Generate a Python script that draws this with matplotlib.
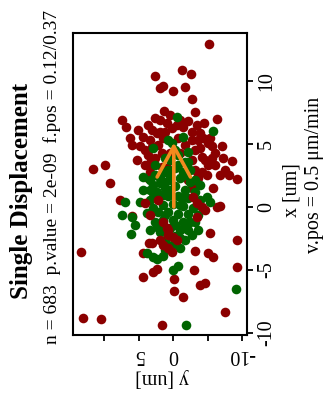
import matplotlib
matplotlib.use('Agg')
import matplotlib.pyplot as plt

plt.rcParams['font.family'] = ['Liberation Serif', 'DejaVu Serif']

# ---- data (x_um is the displacement along x, y_um along y) ----
red_back_x = [12.94, 10.83, 10.56, 10.40, 9.60, 9.44, 9.21, 9.50, 8.53, 7.58,
              7.02, 6.90, 6.37, 7.01, 6.67, 6.85, 6.64, 6.51, 6.37, 6.11,
              5.98, 5.85, 5.58, 5.98, 5.85, 4.88, 5.45, 5.32, 5.45, 4.80,
              4.84, 4.66, 4.52, 4.79, 3.73, 4.13, 3.47, 4.26, 3.99, 3.87,
              3.33, 3.87, 3.67, 2.94, 2.50, 2.18, 2.99, 3.33, 1.88, 2.80,
              2.28, 3.07, 2.94, 2.80, 2.28, 2.54, 2.14, 2.28, 1.48, 1.48,
              0.56, 0.02, 0.08, -2.06, -3.67, -3.49, -3.67, -4.01, -3.55, -2.83,
              -2.62, -4.74, -5.52, -5.13, -4.94, -5.00, -5.74, -6.67, -7.18, -6.19,
              -6.01, -8.31, -8.81, -8.93, -9.40, -0.71, 5.32, 5.45, 6.25, 6.51,
              5.08, 4.29, 4.29, 4.29, 3.20,
              7.30, 7.54, 6.51, 6.11, 5.95, 4.92, 4.52, 5.48, 4.84, 4.92,
              3.89, 3.73, 3.33, 6.90, 6.90, 5.48, 3.73, 5.32, 3.33, 2.54]
red_back_y = [-5.22, -1.30, -2.54, 2.68, 1.45, 1.88, 0.00, -1.67, -2.68, 1.38,
              2.61, 7.43, 6.81, -6.33, -4.49, -2.22, 0.91, -0.54, -1.49, 3.09,
              1.88, 2.36, 4.35, -2.71, -3.91, 5.99, -0.77, -2.71, -4.39, -5.61,
              -7.06, -3.91, 4.06, 3.09, 5.26, 3.58, 3.33, 1.64, -4.16, -5.61,
              -5.12, -7.29, -8.59, -7.54, -8.04, -9.28, 11.55, 9.93, 9.09, 3.33,
              3.58, 0.91, -3.19, -4.16, -3.43, -4.88, -2.22, -3.67, -2.71, -5.84,
              7.68, -6.33, -6.81, -5.36, 4.30, -3.19, -5.12, -5.84, 13.38, 3.48,
              -9.23, -9.23, 4.35, 2.86, 2.36, -2.97, -0.14, -0.14, -1.45, -3.87,
              -4.57, -7.46, 13.04, 10.48, 1.67, 5.90, 3.33, 1.41, 0.19, -3.43,
              -5.07, -6.09, -1.01, 0.43, 1.64,
              0.43, -3.19, 3.62, 5.07, 1.16, -1.74, -3.19, -5.36, 4.78, 2.17,
              2.61, -2.75, -6.09, -1.01, 1.88, 6.23, -4.64, -3.62, 4.06, -6.81]

green_x = [7.12, 5.99, 5.32, 5.58, 4.66, 4.39, 3.33, 2.40, 3.60, 2.80,
           1.88, 2.01, 1.75, 1.21, 0.82, 0.82, 0.42, 0.42, 0.42, -0.63,
           -0.77, -0.50, -1.43, -1.56, -1.83, -1.83, -2.17, -3.67, -3.94, -3.87,
           -4.15, -2.48, -5.00, -4.72, -6.53, -9.34,
           2.30, 2.46, 2.30, 1.98, 1.51, 1.67, 1.35, 1.19, 0.87, 0.87,
           0.87, 0.71, 0.16, 0.24, 0.08, -0.08, -0.40, -0.40, -0.56, -0.56,
           -1.03, -1.03, -1.19, -1.67, -1.83, -1.98, -2.30, -2.62, -2.62, -3.02,
           3.73, 3.33, 2.94, 3.57, 4.52, 5.08, 2.94, 1.75, -0.63, -1.19,
           1.35, 0.56, -1.19, -1.83, -3.25, -3.41, 1.35, 0.16, -0.63, -1.43,
           -1.19, 1.35, 3.89, 4.13,
           2.54, 2.78, 2.54, 2.14, 0.56, 0.95, 0.71, 0.16, -0.08, -1.67,
           -1.43, -2.22, 2.14, 3.10, 2.14]
green_y = [-0.62, -5.72, 0.68, -1.49, 2.86, -2.22, 2.61, 4.30, -2.22, -1.49,
           1.88, 1.16, -3.91, 2.36, 2.86, -4.88, -5.36, 6.96, 4.78, 7.43,
           5.99, 3.81, 5.51, 2.36, -2.22, -3.67, 6.09, 3.81, 2.86, 1.41,
           2.36, -0.97, -0.04, -0.77, -9.06, -1.91,
           1.88, 0.43, -1.01, -2.46, 1.16, -0.29, -1.74, -3.19, 2.17, 0.72,
           -0.72, -2.17, 1.45, 0.00, -1.45, -2.90, 2.17, 0.72, -0.72, -2.17,
           1.45, 0.00, -1.45, 0.43, -1.01, 1.88, -0.29, 1.16, -1.74, 0.14,
           0.43, -0.72, 0.72, -1.74, -0.29, 0.14, -2.46, 2.90, -3.62, 2.61,
           3.33, -3.91, -3.19, 3.33, -1.01, 1.16, 0.43, -1.01, 1.16, -0.29,
           -2.46, 4.35, 1.16, -0.72,
           2.61, 1.16, -1.74, -3.19, 3.33, 1.45, -1.45, -3.62, 2.90, -1.74,
           1.88, -2.75, 3.33, -0.29, 0.43]

red_front_x = [0.29, 0.56, 0.29, 0.02, -0.63, -1.17, -1.69, -0.77, -2.22,
               -2.62, -2.88, -2.62, -3.02, -3.28, -3.55, 0.82, -0.24, -2.36, -1.83]
red_front_y = [4.06, 2.13, -3.43, -4.16, 3.33, 1.41, 0.91, -3.43, 0.68,
               -0.54, 3.09, 1.88, 1.41, 0.68, 0.19, -2.90, -4.59, 0.00, 0.72]

arrow_x = [0.0, 5.1]
arrow_y = [-0.1, -0.1]

x_ticks = [-10, -5, 0, 5, 10]
x_tick_labels = ['-10', '-5', '0', '5', '10']
y_ticks = [10, 5, 0, -5, -10]
y_tick_labels = ['', '5', '0', '', '-10']

title = 'Single Displacement'
subtitle = 'n = 683  p.value = 2e-09  f.pos = 0.12/0.37'
x_label = 'x [um]'
y_label = 'y [um]'
v_label = 'v.pos = 0.5 \u03bcm/min'

RED = '#8B0000'
GREEN = '#006400'
ORANGE = '#F28A1E'

W, H = 327, 395
fig = plt.figure(figsize=(W / 100, H / 100), dpi=100)
ax = fig.add_axes([73 / W, 1 - 335 / H, 174 / W, 302 / H])

# The chart is drawn rotated: horizontal axis = y (reversed), vertical axis = x
ms = 48
ax.scatter(red_back_y, red_back_x, s=ms, c=RED, linewidths=0, zorder=2)
ax.scatter(green_y, green_x, s=ms, c=GREEN, linewidths=0, zorder=3)
ax.scatter(red_front_y, red_front_x, s=ms, c=RED, linewidths=0, zorder=4)

ax.annotate('', xy=(arrow_y[1], arrow_x[1]), xytext=(arrow_y[0], arrow_x[0]),
            arrowprops=dict(arrowstyle='->,head_length=2.2,head_width=1.2',
                            color=ORANGE, lw=2.6, mutation_scale=10,
                            shrinkA=0, shrinkB=0),
            zorder=5)

ax.set_xlim(14.5, -10.7)
ax.set_ylim(-10.16, 13.8)

ax.set_xticks(y_ticks)
ax.set_xticklabels(y_tick_labels, rotation=180, fontsize=14.4)
ax.yaxis.tick_right()
ax.set_yticks(x_ticks)
ax.set_yticklabels(x_tick_labels, rotation=90, va='center', fontsize=14.4)
ax.tick_params(axis='both', length=4.3, width=1.3, direction='out', pad=3)
for sp in ax.spines.values():
    sp.set_linewidth(1.5)

fig.text(21.5 / W, 1 - 191 / H, title, rotation=90, fontsize=18,
         fontweight='bold', ha='center', va='center')
fig.text(52.5 / W, 1 - 176.5 / H, subtitle, rotation=90, fontsize=14,
         ha='center', va='center')
fig.text(292 / W, 1 - 190 / H, x_label, rotation=90, fontsize=14.4,
         ha='center', va='center')
fig.text(315 / W, 1 - 175 / H, v_label, rotation=90, fontsize=14.4,
         ha='center', va='center')
fig.text(162 / W, 1 - 378 / H, y_label, rotation=180, fontsize=14.4,
         ha='center', va='center')

fig.savefig('out.png', dpi=100)
